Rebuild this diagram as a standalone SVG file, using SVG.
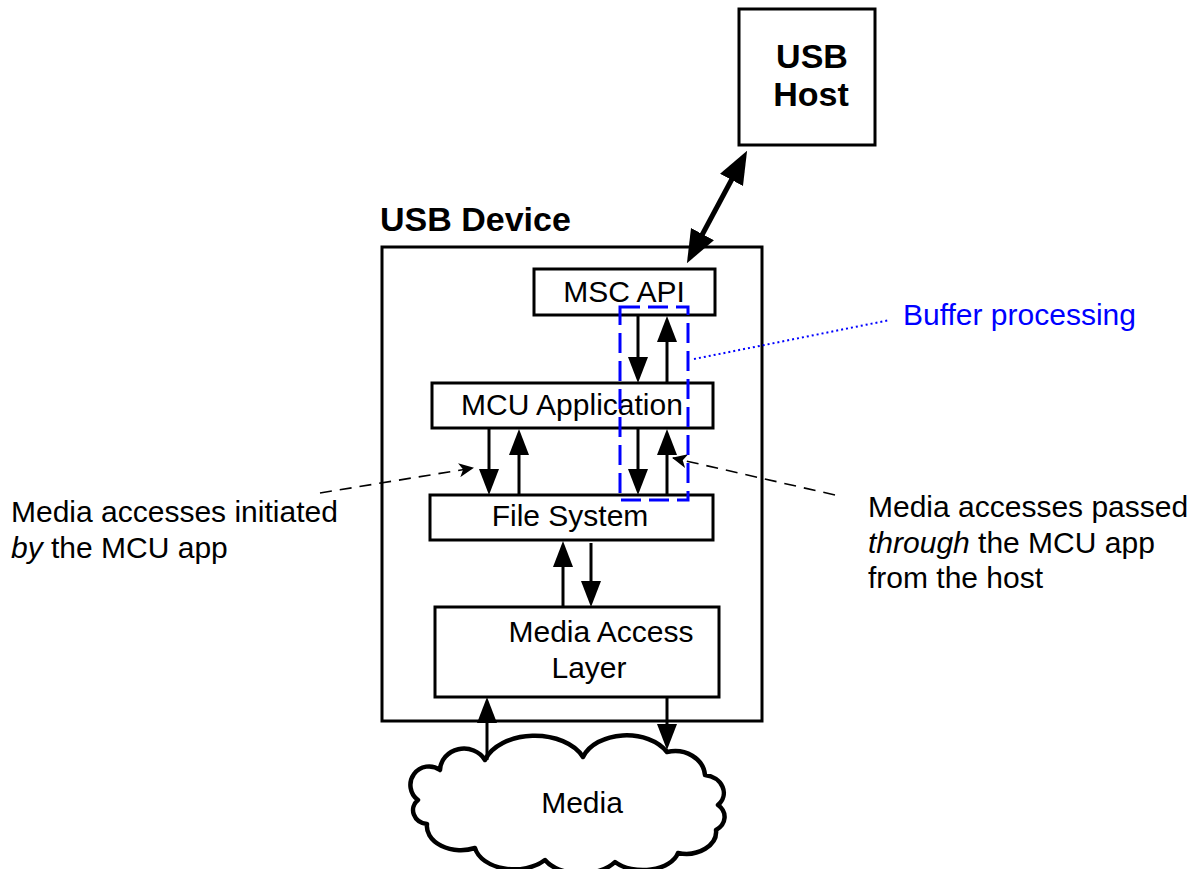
<svg xmlns="http://www.w3.org/2000/svg" width="1200" height="869" viewBox="0 0 1200 869">
  <defs>
    <style>
      .box { fill: #ffffff; stroke: #000000; stroke-width: 3; }
      .cloud { fill: #ffffff; stroke: #000000; stroke-width: 4.5; stroke-linejoin: round; }
      .lbl { font-family: "Liberation Sans", Arial, sans-serif; font-size: 30px; fill: #000000; }
      .big { font-family: "Liberation Sans", Arial, sans-serif; font-size: 34px; font-weight: bold; fill: #000000; }
      .mid { text-anchor: middle; }
      .flow { stroke: #000000; stroke-width: 3; fill: none; marker-end: url(#head); }
      .note { stroke: #000000; stroke-width: 1.6; stroke-dasharray: 12 8; fill: none; marker-end: url(#barb); }
    </style>
    <!-- solid arrowhead; tip sits 10px beyond the line end -->
    <marker id="head" markerUnits="userSpaceOnUse" markerWidth="28" markerHeight="22" viewBox="0 0 28 22" refX="16" refY="11" orient="auto">
      <path d="M0,1 L26,11 L0,21 z" fill="#000000"/>
    </marker>
    <!-- large head for the host link -->
    <marker id="bighead" markerUnits="userSpaceOnUse" markerWidth="34" markerHeight="28" viewBox="0 0 34 28" refX="18" refY="14" orient="auto-start-reverse">
      <path d="M0,1 L33,14 L0,27 z" fill="#000000"/>
    </marker>
    <!-- small barbed head for callouts -->
    <marker id="barb" markerUnits="userSpaceOnUse" markerWidth="16" markerHeight="14" viewBox="0 0 16 14" refX="14" refY="7" orient="auto">
      <path d="M0,0 L15,7 L0,14 L4,7 z" fill="#000000"/>
    </marker>
  </defs>

  <!-- USB host -->
  <g id="usb-host">
    <rect class="box" x="739" y="9" width="136" height="136"/>
    <text class="big mid" x="812" y="68">USB</text>
    <text class="big mid" x="811" y="106">Host</text>
  </g>

  <!-- USB device container -->
  <g id="usb-device">
    <rect class="box" x="382" y="247" width="380" height="474"/>
    <text class="big" x="380" y="231">USB Device</text>
  </g>

  <g id="msc-api">
    <rect class="box" x="534" y="269" width="181" height="46"/>
    <text class="lbl mid" x="624" y="302">MSC API</text>
  </g>

  <g id="mcu-application">
    <rect class="box" x="432" y="383" width="281" height="45"/>
    <text class="lbl mid" x="572" y="415">MCU Application</text>
  </g>

  <g id="file-system">
    <rect class="box" x="430" y="495" width="283" height="45"/>
    <text class="lbl mid" x="570" y="526">File System</text>
  </g>

  <g id="media-access-layer">
    <rect class="box" x="435" y="607" width="284" height="90"/>
    <text class="lbl mid" x="601" y="642">Media Access</text>
    <text class="lbl mid" x="589" y="678">Layer</text>
  </g>

  <g id="media">
    <path class="cloud" d="M440,770
      A24,22 0 0 1 485,760
      A52,34 0 0 1 583,757
      A46,32 0 0 1 667,752
      A30,26 0 0 1 705,775
      A22,18 0 0 1 718,805
      A20,16 0 0 1 716,830
      A30,22 0 0 1 678,853
      A36,22 0 0 1 615,862
      A40,24 0 0 1 545,860
      A40,26 0 0 1 475,848
      A34,24 0 0 1 427,824
      A16,14 0 0 1 418,800
      A18,18 0 0 1 440,770 z"/>
    <text class="lbl mid" x="582" y="813">Media</text>
  </g>

  <!-- data flow connectors -->
  <g id="connectors">
    <line x1="740" y1="164" x2="694" y2="250" stroke="#000000" stroke-width="5" marker-start="url(#bighead)" marker-end="url(#bighead)"/>

    <line class="flow" x1="638" y1="316" x2="638" y2="373"/>
    <line class="flow" x1="667" y1="383" x2="667" y2="326"/>
    <line class="flow" x1="638" y1="429" x2="638" y2="485"/>
    <line class="flow" x1="667" y1="495" x2="667" y2="439"/>
    <line class="flow" x1="489" y1="429" x2="489" y2="485"/>
    <line class="flow" x1="519" y1="495" x2="519" y2="439"/>
    <line class="flow" x1="563" y1="607" x2="563" y2="551"/>
    <line class="flow" x1="591" y1="543" x2="591" y2="597"/>
    <line class="flow" x1="487" y1="760" x2="487" y2="707"/>
    <line class="flow" x1="667" y1="697" x2="667" y2="740"/>

    <!-- callout leaders -->
    <line class="note" x1="320" y1="493" x2="473" y2="468"/>
    <line class="note" x1="835" y1="495" x2="673" y2="458"/>
    <line x1="694" y1="359" x2="890" y2="320" stroke="#0000ff" stroke-width="2" stroke-dasharray="2 3"/>
  </g>

  <!-- buffer processing region -->
  <g id="buffer-processing">
    <rect x="620" y="307" width="68" height="193" fill="none" stroke="#0000ff" stroke-width="3" stroke-dasharray="20 8"/>
    <text class="lbl" x="903" y="325" style="fill:#0000ff">Buffer processing</text>
  </g>

  <g id="note-initiated">
    <text class="lbl" x="11" y="522">Media accesses initiated</text>
    <text class="lbl" x="11" y="558"><tspan font-style="italic">by</tspan> the MCU app</text>
  </g>

  <g id="note-passed">
    <text class="lbl" x="868" y="517">Media accesses passed</text>
    <text class="lbl" x="868" y="553"><tspan font-style="italic">through</tspan> the MCU app</text>
    <text class="lbl" x="868" y="588">from the host</text>
  </g>
</svg>
